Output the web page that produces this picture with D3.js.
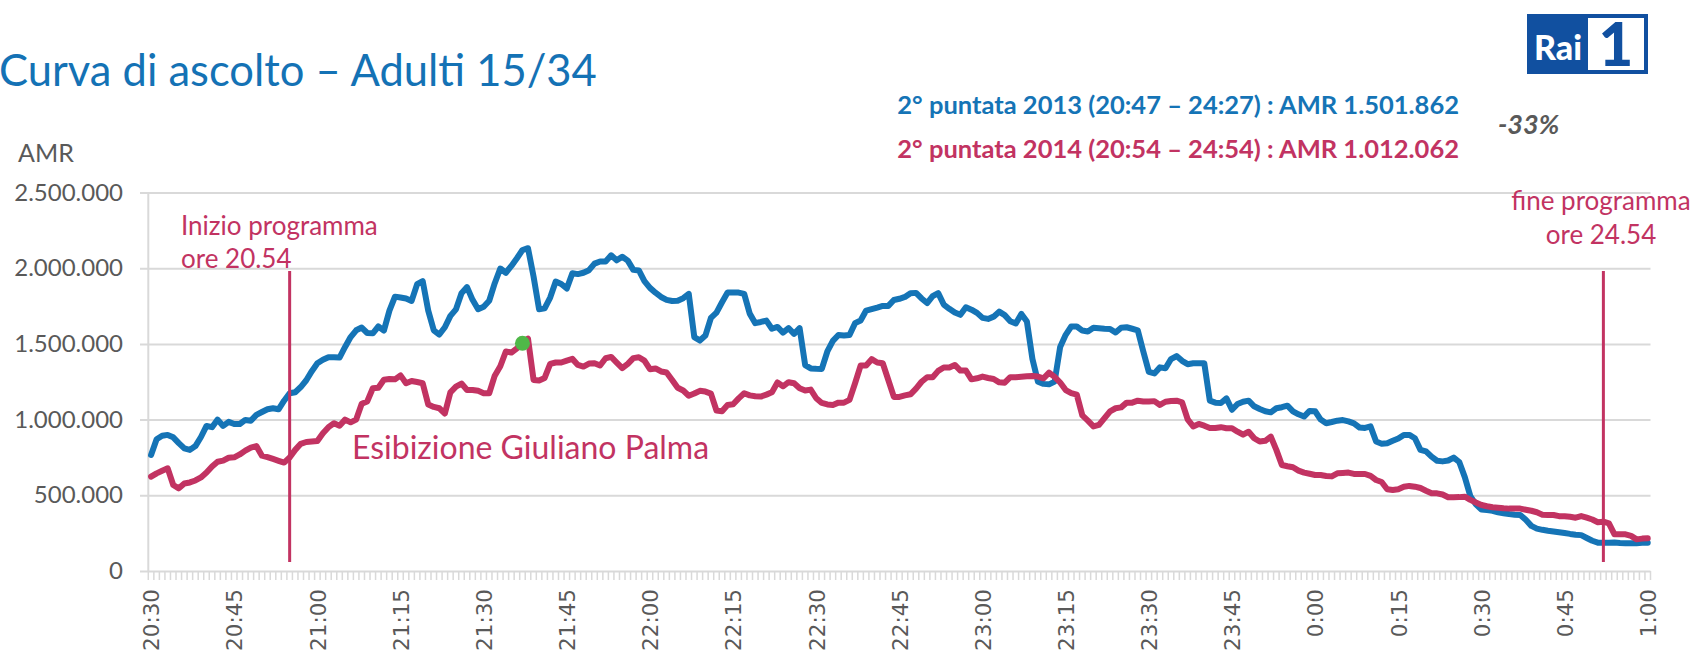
<!DOCTYPE html>
<html>
<head>
<meta charset="utf-8">
<title>Curva di ascolto</title>
<script src="https://d3js.org/d3.v7.min.js"></script>
<style>
  body { margin: 0; background: #fff; }
  svg { display: block; }
</style>
</head>
<body>
<script>
// AMR minute by minute (thousands), from 20:30 to 1:00
var amr2013 = [
  766, 870, 893, 899, 883, 845, 810, 800, 825, 885,
  958, 950, 1000, 958, 985, 971, 971, 998, 993, 1031,
  1050, 1068, 1075, 1068, 1125, 1174, 1181, 1215, 1260, 1320,
  1372, 1395, 1412, 1412, 1410, 1480, 1545, 1590, 1608, 1572,
  1570, 1615, 1588, 1720, 1812, 1806, 1800, 1784, 1895, 1915,
  1720, 1590, 1562, 1610, 1685, 1728, 1835, 1875, 1791, 1729,
  1745, 1785, 1901, 1998, 1970, 2015, 2066, 2120, 2132, 1945,
  1729, 1735, 1806, 1912, 1896, 1866, 1967, 1961, 1970, 1987,
  2030, 2044, 2044, 2085, 2052, 2076, 2050, 1989, 1985, 1915,
  1870, 1838, 1810, 1791, 1783, 1785, 1802, 1830, 1545, 1522,
  1555, 1672, 1707, 1775, 1839, 1839, 1839, 1830, 1700, 1637,
  1645, 1654, 1600, 1612, 1575, 1604, 1566, 1604, 1360, 1338,
  1336, 1335, 1450, 1520, 1559, 1555, 1559, 1637, 1655, 1720,
  1730, 1740, 1751, 1751, 1790, 1798, 1810, 1835, 1837, 1800,
  1770, 1815, 1835, 1760, 1732, 1707, 1692, 1742, 1726, 1705,
  1672, 1665, 1680, 1713, 1690, 1650, 1635, 1698, 1648, 1400,
  1250, 1236, 1233, 1251, 1480, 1560, 1615, 1615, 1588, 1582,
  1606, 1603, 1600, 1599, 1575, 1607, 1610, 1600, 1590, 1450,
  1315, 1305, 1345, 1339, 1400, 1420, 1388, 1366, 1372, 1372,
  1372, 1125, 1112, 1110, 1140, 1065, 1103, 1118, 1125, 1088,
  1070, 1055, 1048, 1075, 1082, 1092, 1055, 1035, 1020, 1057,
  1055, 1000, 976, 984, 993, 997, 988, 975, 948, 945,
  955, 855, 840, 844, 860, 875, 899, 899, 877, 800,
  790, 755, 728, 724, 730, 749, 720, 620, 495, 440,
  406, 402, 398, 388, 382, 376, 372, 370, 338, 298,
  280, 272, 266, 261, 256, 251, 245, 240, 237, 218,
  200, 187, 187, 187, 188, 185, 183, 183, 184, 186,
  187
];
var amr2014 = [
  623, 645, 662, 678, 568, 546, 578, 585, 598, 618,
  650, 690, 722, 729, 748, 751, 770, 795, 815, 825,
  762, 752, 740, 728, 716, 750, 800, 840, 852, 855,
  858, 910, 950, 976, 960, 1000, 982, 1000, 1105, 1120,
  1207, 1210, 1263, 1268, 1266, 1292, 1240, 1255, 1248, 1240,
  1100, 1084, 1075, 1040, 1180, 1218, 1238, 1196, 1196, 1190,
  1174, 1174, 1290, 1352, 1450, 1443, 1471, 1504, 1535, 1262,
  1258, 1275, 1368, 1377, 1377, 1390, 1401, 1361, 1350, 1370,
  1372, 1357, 1405, 1414, 1377, 1340, 1368, 1406, 1412, 1390,
  1333, 1338, 1318, 1311, 1262, 1210, 1192, 1158, 1172, 1190,
  1185, 1172, 1060, 1055, 1097, 1101, 1140, 1174, 1160, 1154,
  1152, 1165, 1180, 1245, 1220, 1247, 1240, 1207, 1192, 1198,
  1141, 1110, 1100, 1097, 1112, 1112, 1130, 1240, 1357, 1357,
  1399, 1377, 1372, 1262, 1150, 1150, 1160, 1167, 1205, 1250,
  1280, 1280, 1322, 1344, 1344, 1361, 1324, 1324, 1266, 1273,
  1284, 1275, 1268, 1246, 1244, 1280, 1280, 1283, 1286, 1288,
  1284, 1273, 1310, 1282, 1245, 1195, 1175, 1165, 1028, 993,
  955, 965, 1010, 1055, 1075, 1081, 1112, 1112, 1125, 1120,
  1119, 1122, 1097, 1118, 1123, 1125, 1114, 1002, 955, 971,
  960, 945, 945, 950, 943, 943, 920, 900, 920, 877,
  855, 860, 888, 800, 700, 692, 685, 663, 650, 642,
  634, 634, 628, 625, 645, 648, 650, 641, 641, 641,
  628, 601, 588, 540, 535, 540, 556, 562, 557, 548,
  530, 513, 513, 505, 487, 487, 488, 491, 470, 452,
  436, 428, 421, 418, 414, 412, 412, 412, 405, 398,
  388, 372, 370, 370, 362, 362, 358, 352, 363, 352,
  340, 322, 326, 315, 242, 242, 242, 232, 209, 214,
  216
];
var yTicks = [0, 500000, 1000000, 1500000, 2000000, 2500000];
var xTickLabels = ["20:30", "20:45", "21:00", "21:15", "21:30", "21:45", "22:00",
  "22:15", "22:30", "22:45", "23:00", "23:15", "23:30", "23:45",
  "0:00", "0:15", "0:30", "0:45", "1:00"];
var legendLines = ["2° puntata 2013 (20:47 – 24:27) : AMR 1.501.862",
                   "2° puntata 2014 (20:54 – 24:54) : AMR 1.012.062"];
var markers = [
  { at: "20:55", text: ["Inizio programma", "ore 20.54"] },
  { at: "0:52", text: ["fine programma", "ore 24.54"] }
];
var highlight = { at: "21:37", text: "Esibizione Giuliano Palma" };

// one category per minute
var minutes = d3.range(amr2013.length).map(function(i) {
  var t = 20 * 60 + 30 + i;
  var m = t % 60;
  return ((Math.floor(t / 60)) % 24) + ":" + (m < 10 ? "0" : "") + m;
});

var blue = "#1574b6", pink = "#c23362", grey = "#595959", grid = "#d9d9d9";
var W = 1698, H = 651;
var plotL = 148.3, plotR = 1650.5, plotT = 192.5, plotB = 571;

var svg = d3.select("body").append("svg")
  .attr("width", W).attr("height", H);

var x = d3.scalePoint().domain(minutes).range([plotL, plotR]).padding(0.5);
var y = d3.scaleLinear().domain([0, 2500000]).range([plotB, plotT]);

var it = d3.formatLocale({ decimal: ",", thousands: ".", grouping: [3], currency: ["€", ""] });

// horizontal gridlines + y labels
var yAxis = svg.append("g")
  .attr("transform", "translate(140,0)")
  .call(d3.axisLeft(y).tickValues(yTicks).tickFormat(it.format(",d"))
    .tickSize(-(plotR - 140)).tickPadding(17));
yAxis.select(".domain").remove();
yAxis.selectAll("line").attr("stroke", grid).attr("stroke-width", 2);
yAxis.selectAll("text").attr("fill", grey)
  .style("font-family", "Lato, sans-serif").style("font-size", "24px");

// vertical axis line
svg.append("line")
  .attr("x1", plotL).attr("x2", plotL).attr("y1", plotT).attr("y2", plotB)
  .attr("stroke", grid).attr("stroke-width", 2);

// minor ticks between minutes
var step = x.step();
svg.append("g").selectAll("line")
  .data(minutes.concat(["end"]))
  .enter().append("line")
  .attr("x1", function(d, i) { return plotL + i * step; })
  .attr("x2", function(d, i) { return plotL + i * step; })
  .attr("y1", plotB).attr("y2", plotB + 9)
  .attr("stroke", grid).attr("stroke-width", 1.5);

// x labels
var xAxis = svg.append("g")
  .attr("transform", "translate(0," + plotB + ")")
  .call(d3.axisBottom(x).tickValues(xTickLabels).tickSize(0));
xAxis.select(".domain").remove();
xAxis.selectAll("text")
  .attr("transform", "rotate(-90)")
  .attr("x", -18).attr("y", 0).attr("dy", "0.36em")
  .style("text-anchor", "end")
  .attr("fill", grey)
  .style("font-family", "DejaVu Sans, sans-serif").style("font-size", "21.5px");

// series
var line = d3.line()
  .x(function(d, i) { return x(minutes[i]); })
  .y(function(d) { return y(d * 1000); });

svg.append("path").datum(amr2013)
  .attr("d", line).attr("fill", "none")
  .attr("stroke", blue).attr("stroke-width", 6)
  .attr("stroke-linejoin", "round").attr("stroke-linecap", "round");
svg.append("path").datum(amr2014)
  .attr("d", line).attr("fill", "none")
  .attr("stroke", pink).attr("stroke-width", 6)
  .attr("stroke-linejoin", "round").attr("stroke-linecap", "round");

// start / end markers
markers.forEach(function(m) {
  svg.append("line")
    .attr("x1", x(m.at)).attr("x2", x(m.at))
    .attr("y1", 271).attr("y2", 562)
    .attr("stroke", pink).attr("stroke-width", 3);
});
var mk0 = svg.append("text").attr("fill", pink)
  .style("font-family", "Lato, sans-serif").style("font-size", "26px");
mk0.selectAll("tspan").data(markers[0].text).enter().append("tspan")
  .attr("x", 181).attr("y", function(d, i) { return 235 + i * 33; })
  .text(function(d) { return d; });
var mk1 = svg.append("text").attr("fill", pink).attr("text-anchor", "middle")
  .style("font-family", "Lato, sans-serif").style("font-size", "26px");
mk1.selectAll("tspan").data(markers[1].text).enter().append("tspan")
  .attr("x", 1601).attr("y", function(d, i) { return 210 + i * 34; })
  .text(function(d) { return d; });

// highlight point
var hi = minutes.indexOf(highlight.at);
svg.append("circle")
  .attr("cx", x(highlight.at)).attr("cy", y(amr2014[hi] * 1000))
  .attr("r", 7.5).attr("fill", "#4fb848");
svg.append("text")
  .attr("x", 352).attr("y", 459)
  .attr("fill", pink)
  .style("font-family", "Lato, sans-serif").style("font-size", "32px")
  .text(highlight.text);

// title + axis name
svg.append("text")
  .attr("x", -1).attr("y", 86)
  .attr("fill", "#1472b5")
  .style("font-family", "Lato, sans-serif").style("font-size", "43.5px")
  .text("Curva di ascolto – Adulti 15/34");
svg.append("text")
  .attr("x", 18).attr("y", 162)
  .attr("fill", grey)
  .style("font-family", "Lato, sans-serif").style("font-size", "25px")
  .text("AMR");

// legend
svg.selectAll(".leg").data(legendLines).enter().append("text")
  .attr("class", "leg")
  .attr("x", 1459).attr("y", function(d, i) { return 114 + i * 44; })
  .attr("text-anchor", "end")
  .attr("fill", function(d, i) { return i === 0 ? blue : pink; })
  .style("font-family", "Lato, sans-serif").style("font-size", "25.5px")
  .style("font-weight", "bold")
  .text(function(d) { return d; });
svg.append("text")
  .attr("x", 1498).attr("y", 134)
  .attr("fill", grey)
  .style("font-family", "Lato, sans-serif").style("font-size", "27px")
  .style("font-weight", "bold").style("font-style", "italic")
  .text("-33%");

// Rai 1 logo
var logo = svg.append("g");
logo.append("rect").attr("x", 1527).attr("y", 14).attr("width", 121).attr("height", 60)
  .attr("fill", "#1150a0");
logo.append("rect").attr("x", 1588).attr("y", 18).attr("width", 56).attr("height", 52)
  .attr("fill", "#fff");
logo.append("text").attr("x", 1558).attr("y", 60).attr("text-anchor", "middle")
  .attr("fill", "#fff")
  .style("font-family", "Lato, sans-serif").style("font-size", "34px").style("font-weight", "900")
  .text("Rai");
logo.append("text").attr("x", 1616).attr("y", 66).attr("text-anchor", "middle")
  .attr("fill", "#1150a0")
  .style("font-family", "Lato, sans-serif").style("font-size", "60px").style("font-weight", "900")
  .text("1");
</script>
</body>
</html>
